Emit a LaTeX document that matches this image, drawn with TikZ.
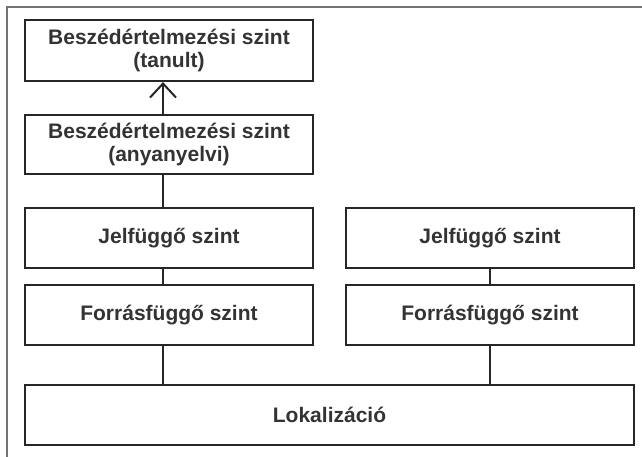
\documentclass[tikz,border=0pt]{standalone}
\usepackage{fontspec}
\setmainfont{Liberation Sans}
\usetikzlibrary{arrows.meta}
\newcommand{\lvlfont}{\fontsize{21}{23}\selectfont\bfseries}

\tikzset{
  level/.style={draw=black!85, line width=2.2pt, minimum width=288pt,
    minimum height=60pt, align=center, inner sep=0pt, font=\lvlfont,
    text=black!80},
  link/.style={draw=black!85, line width=2pt},
  frame/.style={draw=black!55, line width=1.5pt}
}

\begin{document}
\begin{tikzpicture}[x=1pt, y=-1pt]
  \useasboundingbox (0,0) rectangle (642,457);

  % Frame
  \draw[frame] (7,457) -- (7,7) -- (642,7);

  % Levels
  \node[level, minimum height=61pt] (tanult) at (169,50.5)
    {Beszédértelmezési szint\\(tanult)};
  \node[level, minimum height=59pt] (anyany) at (169,144.5)
    {Beszédértelmezési szint\\(anyanyelvi)};
  \node[level] (jelL) at (169,238) {Jelfüggő szint};
  \node[level] (forrL) at (169,315) {Forrásfüggő szint};
  \node[level] (jelR) at (490,238) {Jelfüggő szint};
  \node[level] (forrR) at (490,315) {Forrásfüggő szint};
  \node[level, minimum width=609pt] (lok) at (329.5,415) {Lokalizáció};

  % Drawing
  \draw[link, -{Straight Barb[length=14pt, width=26pt]}]
    ([xshift=-6pt]anyany.north) -- ([xshift=-6pt]tanult.south);
  \draw[link] ([xshift=-6pt]anyany.south) -- ([xshift=-6pt]jelL.north);
  \draw[link] ([xshift=-6pt]jelL.south) -- ([xshift=-6pt]forrL.north);
  \draw[link] ([xshift=-6pt]forrL.south) -- ([xshift=-6pt]forrL.south |- lok.north);
  \draw[link] (jelR.south) -- (forrR.north);
  \draw[link] (forrR.south) -- (forrR.south |- lok.north);
\end{tikzpicture}
\end{document}
